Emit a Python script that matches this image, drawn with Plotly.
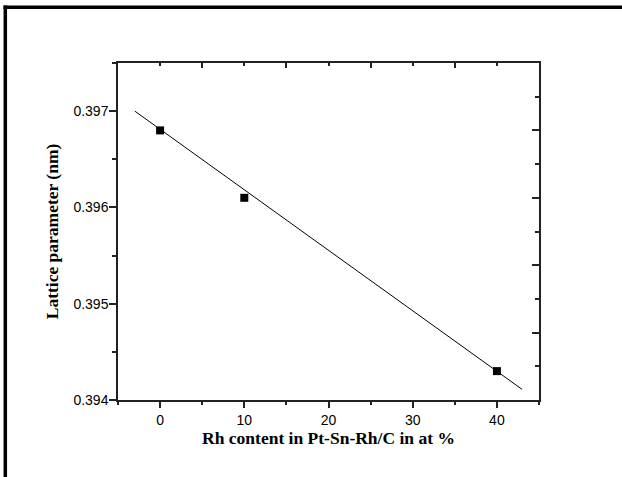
import plotly.graph_objects as go

# Data
rh_content = [0, 10, 40]
lattice_param = [0.3968, 0.3961, 0.3943]
fit_x = [-3, 43]
fit_y = [0.39700, 0.39411]

x_title = "Rh content in Pt-Sn-Rh/C in at %"
y_title = "Lattice parameter (nm)"

W, H = 622, 477
L, R, T, B = 118, 83, 63, 77
pw, ph = W - L - R, H - T - B

def px_x(p):
    return (p - L) / pw

def px_y(p):
    return (H - B - p) / ph

fig = go.Figure()
fig.add_trace(go.Scatter(x=fit_x, y=fit_y, mode="lines",
                         line=dict(color="black", width=1), showlegend=False,
                         hoverinfo="skip"))
fig.add_trace(go.Scatter(x=rh_content, y=lattice_param, mode="markers",
                         marker=dict(symbol="square", size=8, color="black"),
                         showlegend=False))
fig.add_trace(go.Scatter(x=[None], y=[None], xaxis="x2", yaxis="y2",
                         showlegend=False, hoverinfo="skip"))

axis_line = dict(showline=True, linecolor="#222", linewidth=1.5, showgrid=False,
                 zeroline=False)
tickfont = dict(family="Liberation Sans, Arial", size=14, color="black")
titlefont = dict(family="Liberation Serif, Times New Roman", size=17.5, color="black")

fig.update_layout(
    width=W, height=H,
    margin=dict(l=L, r=R, t=T, b=B),
    paper_bgcolor="white", plot_bgcolor="white",
    xaxis=dict(range=[-5, 45], tick0=0, dtick=10, ticks="outside", ticklen=6,
               tickwidth=1.5, tickcolor="#222",
               minor=dict(dtick=5, tick0=0, ticks="outside", ticklen=3,
                          tickwidth=1.5, tickcolor="#222"),
               tickfont=tickfont,
               title=dict(text="<b>" + x_title + "</b>", font=titlefont, standoff=3),
               **axis_line),
    yaxis=dict(range=[0.394, 0.3975], tick0=0.394, dtick=0.001, ticks="outside",
               ticklen=7, tickwidth=1.5, tickcolor="#222", tickformat=".3f",
               ticklabelstandoff=-2,
               minor=dict(dtick=0.0005, tick0=0.394, ticks="outside", ticklen=4,
                          tickwidth=1.5, tickcolor="#222"),
               tickfont=tickfont,
               title=dict(text="<b>" + y_title + "</b>", font=titlefont, standoff=10),
               **axis_line),
    xaxis2=dict(range=[-5, 45], overlaying="x", side="top", anchor="y2",
                tick0=-5, dtick=10, ticks="inside", ticklen=5, tickwidth=1.5,
                tickcolor="#222", showticklabels=False,
                minor=dict(dtick=5, tick0=-5, ticks="inside", ticklen=3,
                           tickwidth=1.5, tickcolor="#222"),
                **axis_line),
    yaxis2=dict(range=[0.394, 0.3975], overlaying="y", side="right", anchor="x2",
                tick0=0.394, dtick=0.0007, ticks="inside", ticklen=7, tickwidth=1.5,
                tickcolor="#222", showticklabels=False,
                minor=dict(dtick=0.00035, tick0=0.394, ticks="inside", ticklen=4,
                           tickwidth=1.5, tickcolor="#222"),
                **axis_line),
    shapes=[
        dict(type="line", xref="paper", yref="paper",
             x0=px_x(5.3), x1=px_x(5.3), y0=px_y(5.5), y1=px_y(H + 5),
             line=dict(color="black", width=3.5)),
        dict(type="line", xref="paper", yref="paper",
             x0=px_x(3.5), x1=px_x(W + 5), y0=px_y(7.3), y1=px_y(7.3),
             line=dict(color="black", width=3.5)),
    ],
)

fig.write_html("out.html")
